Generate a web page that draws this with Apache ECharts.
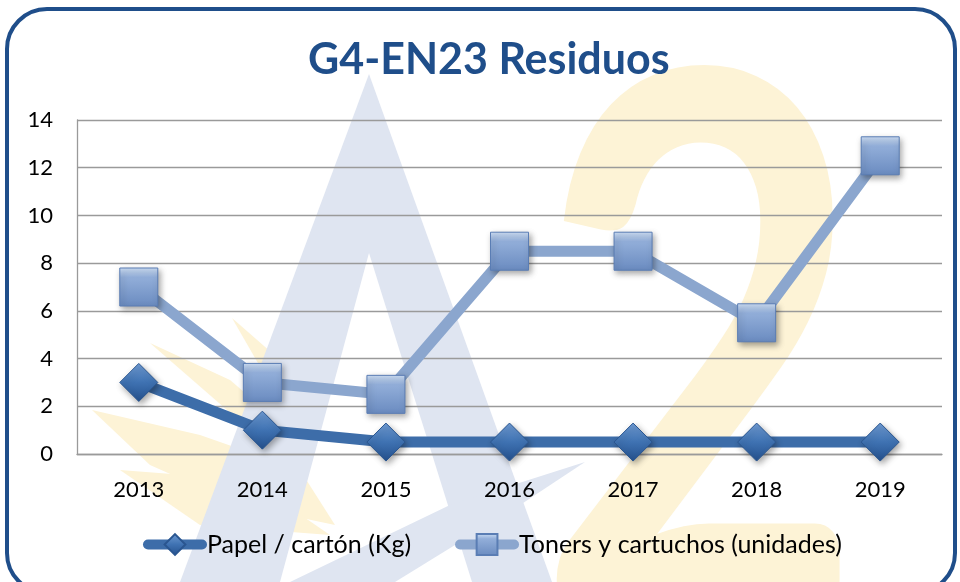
<!DOCTYPE html>
<html>
<head>
<meta charset="utf-8">
<script src="https://cdn.jsdelivr.net/npm/echarts@6/dist/echarts.min.js"></script>
<style>
  html, body { margin: 0; padding: 0; background: #fff; }
  #container { width: 960px; height: 582px; }
</style>
</head>
<body>
<div id="container"></div>
<script>
var years = ['2013', '2014', '2015', '2016', '2017', '2018', '2019'];
var papel = [3, 1, 0.5, 0.5, 0.5, 0.5, 0.5];
var toners = [7, 3, 2.5, 8.5, 8.5, 5.5, 12.5];
var seriesNames = ['Papel / cartón (Kg)', 'Toners y cartuchos (unidades)'];

var dom = document.getElementById('container');
var myChart = echarts.init(dom);

var font = 'Lato, "Open Sans", sans-serif';
var wmBlue = '#dfe5f1';
var wmYellow = '#fdf3d6';

// soft 3D look for the markers
var squareFill = {
    type: 'linear', x: 0, y: 0, x2: 0, y2: 1,
    colorStops: [
        { offset: 0, color: '#cfe0f6' },
        { offset: 0.25, color: '#92aed9' },
        { offset: 1, color: '#6a8bc0' }
    ]
};
var diamondFill = {
    type: 'linear', x: 0, y: 0, x2: 0, y2: 1,
    colorStops: [
        { offset: 0, color: '#6f9bd3' },
        { offset: 0.5, color: '#3f72b2' },
        { offset: 1, color: '#24508c' }
    ]
};

var option = {
    backgroundColor: '#fff',
    title: {
        text: 'G4-EN23 Residuos',
        left: 303,
        top: 34,
        textStyle: {
            fontFamily: font,
            fontSize: 43,
            fontWeight: 'bold',
            color: '#1f4e8a'
        }
    },
    graphic: {
        elements: [
            // faint "A2" watermark behind the plot
            {
                type: 'polygon', z: -10, silent: true,
                shape: { points: [[369, 74], [180, 582], [280, 582], [369, 253]] },
                style: { fill: wmBlue }
            },
            {
                type: 'polygon', z: -10, silent: true,
                shape: { points: [[369, 74], [369, 253], [472, 582], [552, 582]] },
                style: { fill: wmBlue }
            },
            {
                type: 'polygon', z: -10, silent: true,
                shape: { points: [[290, 582], [450, 505], [585, 462], [520, 505], [395, 582]] },
                style: { fill: wmBlue }
            },
            {
                type: 'polygon', z: -11, silent: true,
                shape: { points: [[92, 410], [200, 435], [300, 470], [335, 525], [240, 505], [150, 465]] },
                style: { fill: wmYellow }
            },
            {
                type: 'polygon', z: -11, silent: true,
                shape: { points: [[150, 343], [230, 380], [300, 440], [250, 430]] },
                style: { fill: wmYellow }
            },
            {
                type: 'polygon', z: -11, silent: true,
                shape: { points: [[232, 318], [280, 360], [320, 440], [285, 410]] },
                style: { fill: wmYellow }
            },
            {
                type: 'polygon', z: -11, silent: true,
                shape: { points: [[120, 470], [250, 480], [330, 535], [200, 525]] },
                style: { fill: wmYellow }
            },
            {
                type: 'text', z: -11, silent: true,
                x: 535, y: -3, scaleX: 0.92, scaleY: 1.2,
                style: {
                    text: '2',
                    fontFamily: font,
                    fontWeight: 'bold',
                    fontSize: 620,
                    verticalAlign: 'top',
                    fill: wmYellow
                }
            },
            // rounded frame
            {
                type: 'rect', z: 100, silent: true,
                shape: { x: 7, y: 9, width: 948, height: 584, r: 40 },
                style: { fill: 'none', stroke: '#1f4e8a', lineWidth: 4 }
            }
        ]
    },
    legend: {
        left: 143,
        top: 532,
        padding: 0,
        itemWidth: 54,
        itemHeight: 26,
        itemGap: 44,
        lineStyle: { width: 10, cap: 'round' },
        textStyle: {
            fontFamily: font,
            fontSize: 25,
            color: '#000'
        },
        data: seriesNames
    },
    grid: {
        left: 77,
        right: 18,
        top: 120,
        bottom: 128
    },
    xAxis: {
        type: 'category',
        data: years,
        axisTick: { show: false },
        axisLine: { lineStyle: { color: '#9a9a9a', width: 1.3 } },
        axisLabel: {
            fontFamily: font,
            fontSize: 22,
            color: '#000',
            margin: 25
        }
    },
    yAxis: {
        type: 'value',
        min: 0,
        max: 14,
        interval: 2,
        axisTick: { show: false },
        axisLine: { show: true, lineStyle: { color: '#9a9a9a', width: 1.3 } },
        splitLine: { lineStyle: { color: '#9a9a9a', width: 1.3 } },
        axisLabel: {
            fontFamily: font,
            fontSize: 22,
            color: '#000',
            margin: 24
        }
    },
    series: [
        {
            name: seriesNames[0],
            type: 'line',
            data: papel,
            z: 3,
            symbol: 'diamond',
            symbolSize: 38,
            lineStyle: { color: '#3d6da9', width: 11 },
            itemStyle: {
                color: diamondFill,
                borderColor: '#2a5690',
                borderWidth: 1,
                shadowBlur: 6,
                shadowColor: 'rgba(0,0,0,0.35)',
                shadowOffsetX: 2,
                shadowOffsetY: 3
            }
        },
        {
            name: seriesNames[1],
            type: 'line',
            data: toners,
            z: 2,
            symbol: 'rect',
            symbolSize: 38,
            lineStyle: { color: '#8ba6ce', width: 11 },
            itemStyle: {
                color: squareFill,
                borderColor: '#5a7db4',
                borderWidth: 1,
                shadowBlur: 6,
                shadowColor: 'rgba(0,0,0,0.35)',
                shadowOffsetX: 2,
                shadowOffsetY: 3
            }
        }
    ]
};

myChart.setOption(option);
</script>
</body>
</html>
